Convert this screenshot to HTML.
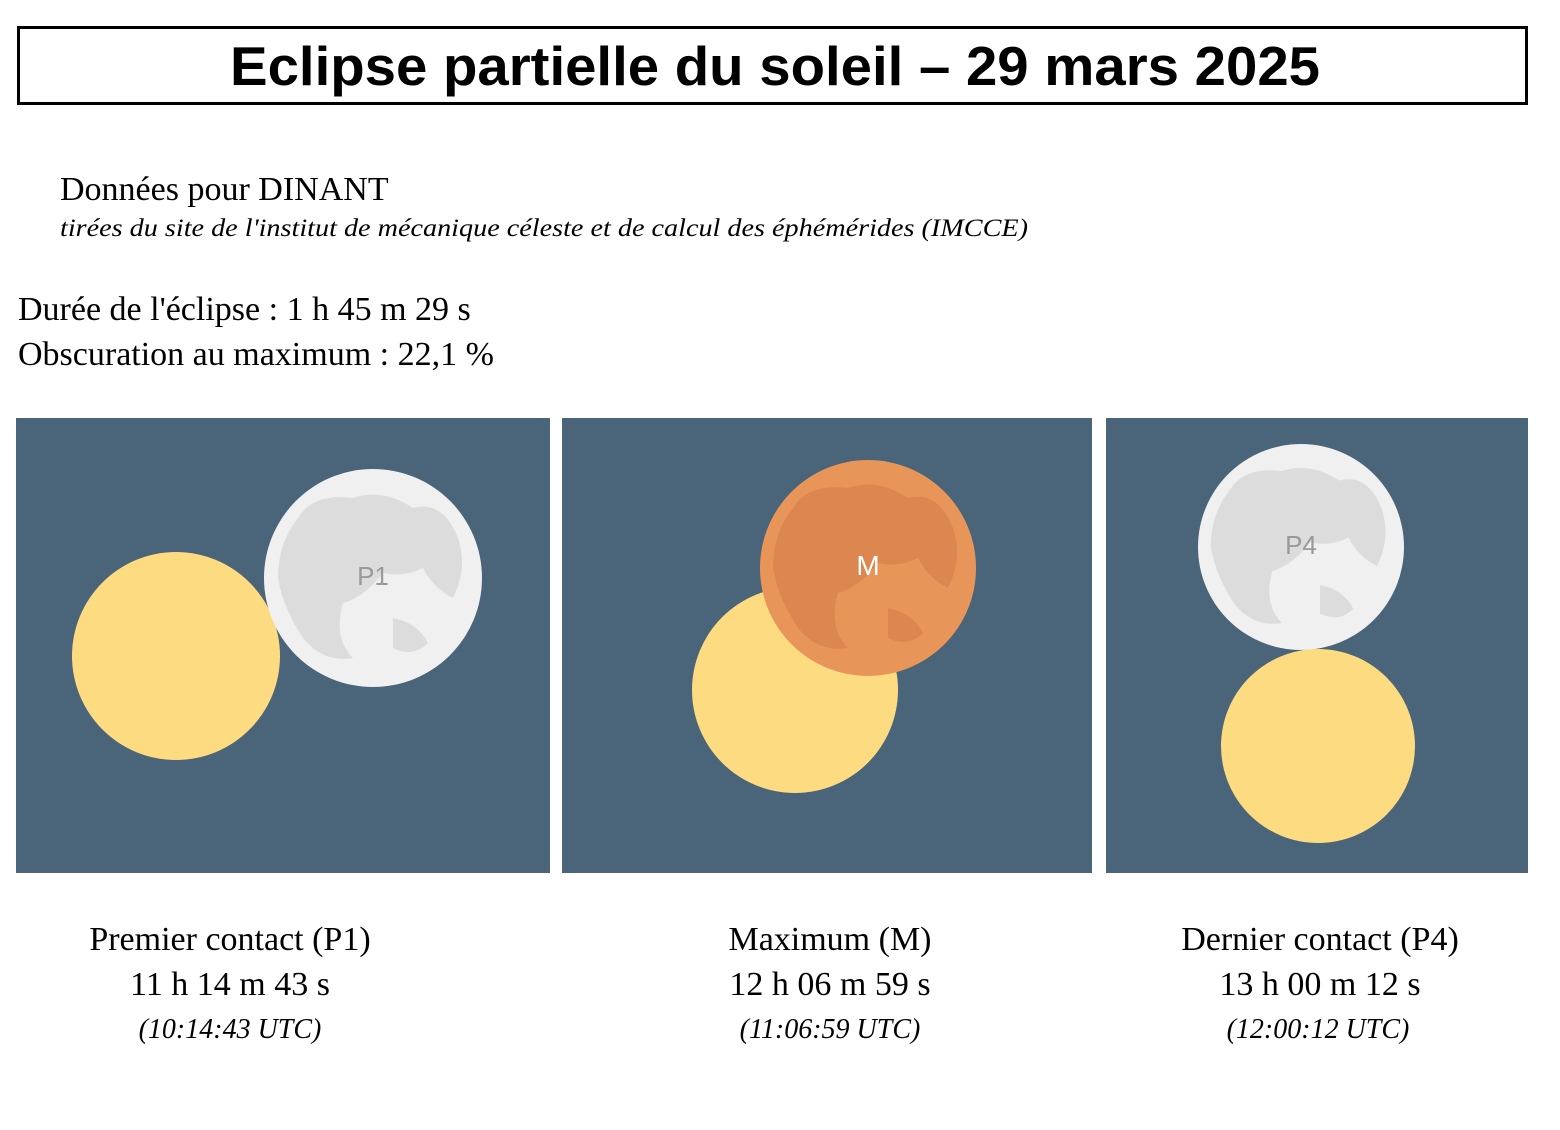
<!DOCTYPE html>
<html><head><meta charset="utf-8"><style>
body{margin:0;background:#fff;width:1560px;height:1130px;overflow:hidden}
svg{display:block}
</style></head><body>
<svg width="1560" height="1130" viewBox="0 0 1560 1130" xmlns="http://www.w3.org/2000/svg">
<defs>
<g id="maria">
<path d="M-75,-60 Q-60,-85 -20,-80 Q10,-90 40,-70 Q70,-78 85,-40 Q95,-10 80,20 Q60,10 50,-10 Q30,0 10,-5 Q-10,20 -30,25 Q-40,60 -20,80 Q-50,85 -70,60 Q-90,30 -95,0 Q-95,-35 -75,-60Z"/>
<path d="M20,40 Q45,45 55,65 Q40,80 20,70Z"/>
</g>
</defs>
<rect x="18.5" y="27.5" width="1508" height="76" fill="none" stroke="#000" stroke-width="3"/>
<text x="775" y="85" text-anchor="middle" font-family="Liberation Sans, sans-serif" font-weight="bold" font-size="55" textLength="1090" lengthAdjust="spacingAndGlyphs">Eclipse partielle du soleil – 29 mars 2025</text>
<g font-family="Liberation Serif, serif" fill="#000">
<text x="60" y="200" font-size="34">Données pour DINANT</text>
<text x="60" y="236" font-size="25" font-style="italic" textLength="968" lengthAdjust="spacingAndGlyphs">tirées du site de l'institut de mécanique céleste et de calcul des éphémérides (IMCCE)</text>
<text x="18" y="320" font-size="34">Durée de l'éclipse : 1 h 45 m 29 s</text>
<text x="18" y="365" font-size="34">Obscuration au maximum : 22,1 %</text>
</g>
<g>
<rect x="16" y="418" width="534" height="455" fill="#4a6479"/>
<circle cx="176" cy="656" r="104" fill="#fddb80"/>
<circle cx="373" cy="578" r="109" fill="#f0f0f0"/>
<use href="#maria" transform="translate(373,578)" fill="#dcdcdc"/>
<text x="373" y="585" text-anchor="middle" font-family="Liberation Sans, sans-serif" font-size="26" fill="#999">P1</text>
</g>
<g>
<rect x="562" y="418" width="530" height="455" fill="#4a6479"/>
<circle cx="795" cy="690" r="103" fill="#fddb80"/>
<circle cx="868" cy="568" r="108" fill="#e8955a"/>
<use href="#maria" transform="translate(868,568)" fill="#dd8750"/>
<text x="868" y="575" text-anchor="middle" font-family="Liberation Sans, sans-serif" font-size="28" fill="#fff">M</text>
</g>
<g>
<rect x="1106" y="418" width="422" height="455" fill="#4a6479"/>
<circle cx="1318" cy="746" r="97" fill="#fddb80"/>
<circle cx="1301" cy="547" r="103" fill="#f0f0f0"/>
<use href="#maria" transform="translate(1301,547) scale(0.95)" fill="#dcdcdc"/>
<text x="1301" y="554" text-anchor="middle" font-family="Liberation Sans, sans-serif" font-size="26" fill="#999">P4</text>
</g>
<g font-family="Liberation Serif, serif" fill="#000" text-anchor="middle">
<g>
<text x="230" y="950" font-size="34">Premier contact (P1)</text>
<text x="230" y="995" font-size="34">11 h 14 m 43 s</text>
<text x="230" y="1038" font-size="28" font-style="italic">(10:14:43 UTC)</text>
</g>
<g>
<text x="830" y="950" font-size="34">Maximum (M)</text>
<text x="830" y="995" font-size="34">12 h 06 m 59 s</text>
<text x="830" y="1038" font-size="28" font-style="italic">(11:06:59 UTC)</text>
</g>
<g>
<text x="1320" y="950" font-size="34">Dernier contact (P4)</text>
<text x="1320" y="995" font-size="34">13 h 00 m 12 s</text>
<text x="1318" y="1038" font-size="28" font-style="italic">(12:00:12 UTC)</text>
</g>
</g>
</svg>
</body></html>
